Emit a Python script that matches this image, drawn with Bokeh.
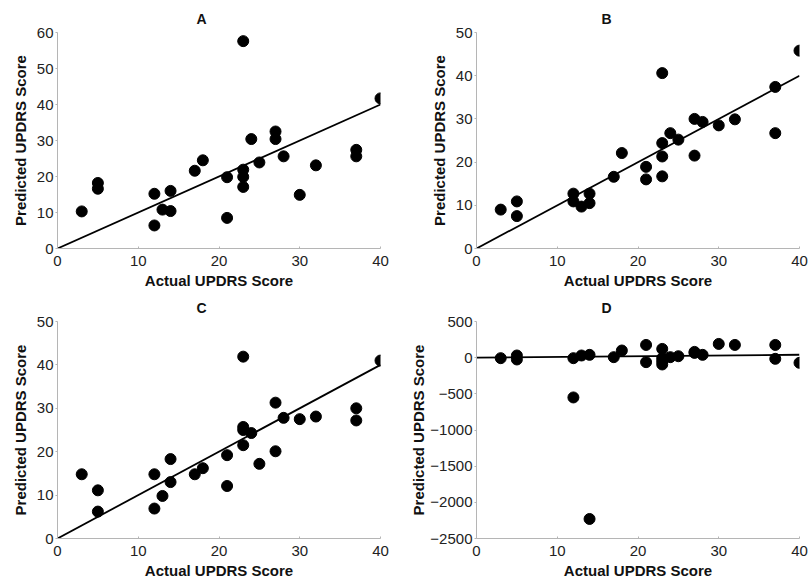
from bokeh.plotting import figure
from bokeh.layouts import column, row
from bokeh.models import Range1d, FixedTicker
from bokeh.embed import file_html
from bokeh.resources import INLINE

actual = [3, 5, 5, 12, 12, 13, 14, 14, 17, 18, 21, 21, 23, 23, 23, 23, 24, 25, 27, 27, 28, 30, 32, 37, 37, 40]
pred_a = [10.3, 18.2, 16.6, 15.2, 6.4, 10.8, 16.0, 10.4, 21.6, 24.5, 19.8, 8.5, 57.6, 21.9, 19.9, 17.1,
          30.4, 23.9, 32.5, 30.4, 25.6, 14.9, 23.1, 27.4, 25.6, 41.7]
pred_b = [9.0, 10.9, 7.5, 12.7, 10.9, 9.7, 12.7, 10.5, 16.6, 22.1, 18.9, 16.0, 40.6, 24.4, 21.3, 16.7,
          26.7, 25.2, 30.0, 21.5, 29.3, 28.5, 29.9, 37.4, 26.7, 45.8]
pred_c = [14.8, 11.1, 6.2, 14.8, 6.9, 9.8, 18.3, 13.0, 14.8, 16.2, 19.2, 12.1, 41.9, 25.7, 25.0, 21.5,
          24.3, 17.2, 31.3, 20.1, 27.8, 27.5, 28.1, 30.0, 27.2, 41.0]
pred_d = [-7, 30, -25, -7, -550, 30, 39, -2230, 7, 99, 176, -62, 121, -7, -50, -94,
          7, 20, 66, 80, 39, 190, 176, 176, -16, -71]

ref_x = [0, 40]
ref_y = [0, 40]

x_ticks = [0, 10, 20, 30, 40]
y_ticks_a = [0, 10, 20, 30, 40, 50, 60]
y_ticks_bc = [0, 10, 20, 30, 40, 50]
y_ticks_d = [-2500, -2000, -1500, -1000, -500, 0, 500]

FONT = "Liberation Sans"


def panel(title, ys, yticks, ylo, yhi, left, right, top, bottom, toff, ystand):
    p = figure(width=404, height=291, output_backend="svg", toolbar_location=None,
               x_range=Range1d(0, 40), y_range=Range1d(ylo, yhi),
               min_border_left=left, min_border_right=right,
               min_border_top=top, min_border_bottom=bottom)
    p.title.text = title
    p.title.align = "left"
    p.title.offset = toff
    p.title.standoff = 12
    p.title.text_font = FONT
    p.title.text_font_size = "14px"
    p.title.text_font_style = "bold"
    p.title.text_color = "#111111"
    p.outline_line_color = None
    p.grid.visible = False
    p.background_fill_color = "white"
    p.border_fill_color = "white"
    for ax in (p.xaxis[0], p.yaxis[0]):
        ax.axis_line_color = "#b5b5b5"
        ax.axis_line_width = 1
        ax.major_tick_line_color = "#b5b5b5"
        ax.minor_tick_line_color = None
        ax.major_label_text_font = FONT
        ax.major_label_text_font_size = "15px"
        ax.major_label_text_color = "#222222"
        ax.axis_label_text_font = FONT
        ax.axis_label_text_font_size = "15px"
        ax.axis_label_text_font_style = "bold"
        ax.axis_label_text_color = "#111111"
    p.xaxis.ticker = FixedTicker(ticks=x_ticks)
    p.yaxis.ticker = FixedTicker(ticks=yticks)
    p.xaxis.major_tick_in = 2
    p.xaxis.major_tick_out = 0
    p.yaxis.major_tick_in = 0
    p.yaxis.major_tick_out = 2
    p.xaxis.major_label_standoff = 7
    p.yaxis.major_label_standoff = 2
    p.xaxis.axis_label = "Actual UPDRS Score"
    p.yaxis.axis_label = "Predicted UPDRS Score"
    p.xaxis.axis_label_standoff = 3
    p.yaxis.axis_label_standoff = ystand
    p.line(ref_x, ref_y, line_color="black", line_width=1.8)
    p.scatter(actual, ys, size=11, fill_color="black", line_color="black")
    return p


pa = panel("A", pred_a, y_ticks_a, 0, 60, 57, 24, 31, 41, 139, 5)
pb = panel("B", pred_b, y_ticks_bc, 0, 50, 72, 9, 32, 41, 125, 5)
pc = panel("C", pred_c, y_ticks_bc, 0, 50, 57, 24, 29, 44, 139, 5)
pd = panel("D", pred_d, y_ticks_d, -2500, 500, 72, 9, 30, 43, 125, 0)

layout = column(row(pa, pb), row(pc, pd))
open("out.html", "w").write(file_html(layout, INLINE))
